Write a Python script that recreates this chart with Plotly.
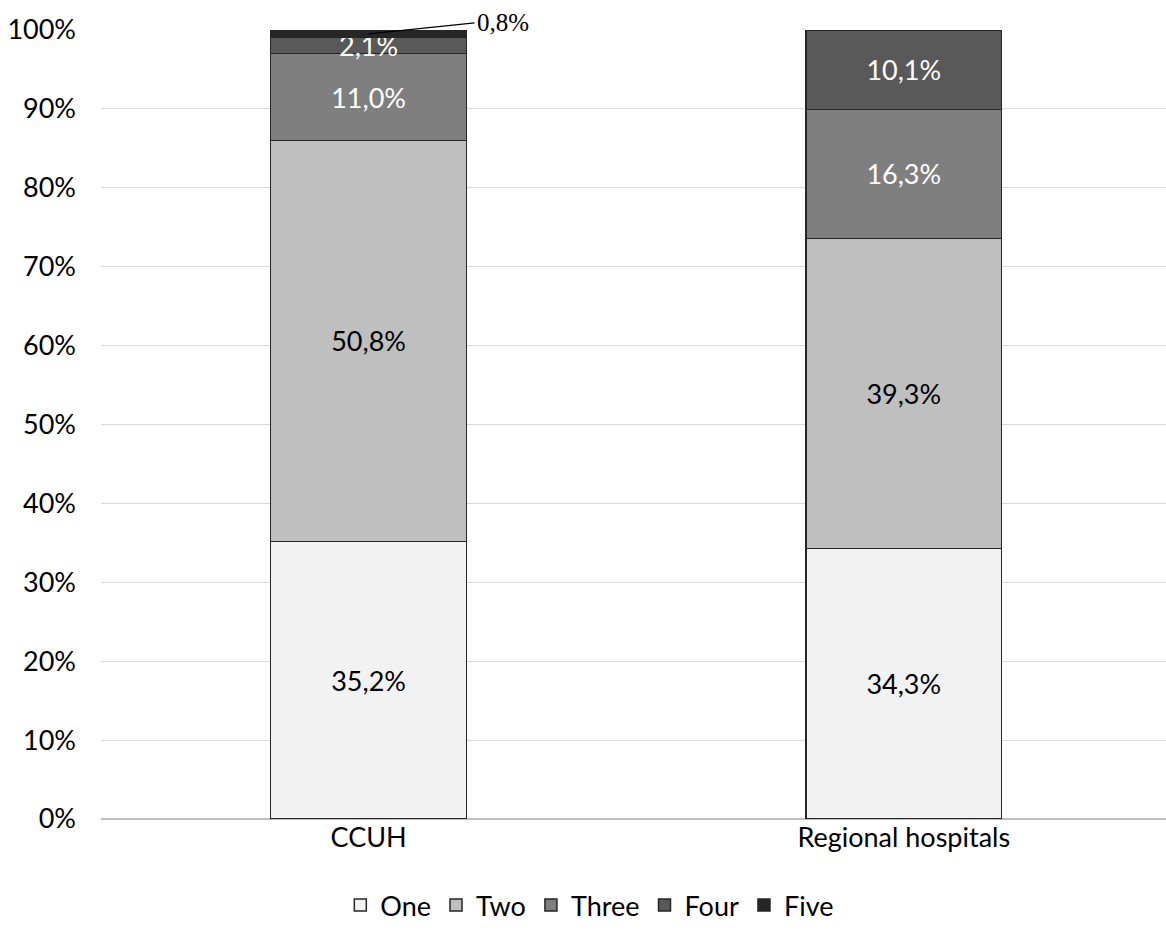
import plotly.graph_objects as go

# Share of patients by number of items, per hospital group (percent)
categories = ["CCUH", "Regional hospitals"]
series_names = ["One", "Two", "Three", "Four", "Five"]
one = [35.2, 34.3]
two = [50.8, 39.3]
three = [11.0, 16.3]
four = [2.1, 10.1]
five = [0.8, 0.0]
y_ticks = [0, 10, 20, 30, 40, 50, 60, 70, 80, 90, 100]
y_tick_labels = ["0%", "10%", "20%", "30%", "40%", "50%", "60%", "70%", "80%", "90%", "100%"]

values = [one, two, three, four, five]
fills = ["#f2f2f2", "#bfbfbf", "#7f7f7f", "#595959", "#262626"]
label_colors = ["#000000", "#000000", "#ffffff", "#ffffff", "#ffffff"]
show_inside = [True, True, True, True, False]

FONT = "Lato"
FS = 27


def pct(v):
    return f"{v:.1f}".replace(".", ",") + "%"


fig = go.Figure()
for name, vals, fill, tc, inside in zip(series_names, values, fills, label_colors, show_inside):
    fig.add_trace(go.Bar(
        name=name,
        x=categories,
        y=vals,
        marker=dict(color=fill, line=dict(color="#262626", width=1.5)),
        text=[pct(v) if (inside and v > 0) else "" for v in vals],
        textposition="inside",
        insidetextanchor="middle",
        textfont=dict(color=tc, size=FS, family=FONT),
        textangle=0,
        cliponaxis=False,
        hoverinfo="skip",
    ))

# Small top segment of CCUH labelled outside with a leader line
five_base = one[0] + two[0] + three[0] + four[0]
fig.add_annotation(
    x=categories[0], y=five_base + five[0] / 2,
    text=pct(five[0]),
    showarrow=True, arrowhead=0, arrowwidth=1.2, arrowcolor="#000000",
    ax=106, ay=-11, xanchor="left", yanchor="middle",
    font=dict(family="Liberation Serif", size=25, color="#000000"),
)

fig.update_layout(
    barmode="stack",
    bargap=0.634,
    width=1166, height=930,
    margin=dict(l=101, r=0, t=30, b=110),
    paper_bgcolor="white", plot_bgcolor="white",
    font=dict(family=FONT, size=FS, color="#000000"),
    uniformtext=dict(minsize=FS, mode="show"),
    legend=dict(orientation="h", x=0.459, xanchor="center", y=-0.109, yanchor="middle",
                font=dict(family=FONT, size=FS), traceorder="normal",
                itemwidth=30, tracegroupgap=0),
    xaxis=dict(range=[-0.5, 1.49], showgrid=False, showline=False, ticks="",
               tickfont=dict(size=FS)),
    yaxis=dict(range=[0, 100], tickmode="array", tickvals=y_ticks, ticktext=y_tick_labels,
               showgrid=True, gridcolor="#d9d9d9", gridwidth=1,
               zeroline=True, zerolinecolor="#bfbfbf", zerolinewidth=1.5,
               showline=False, ticks="", ticklabelstandoff=24,
               tickfont=dict(size=FS)),
    showlegend=True,
)

fig.write_html("out.html")
